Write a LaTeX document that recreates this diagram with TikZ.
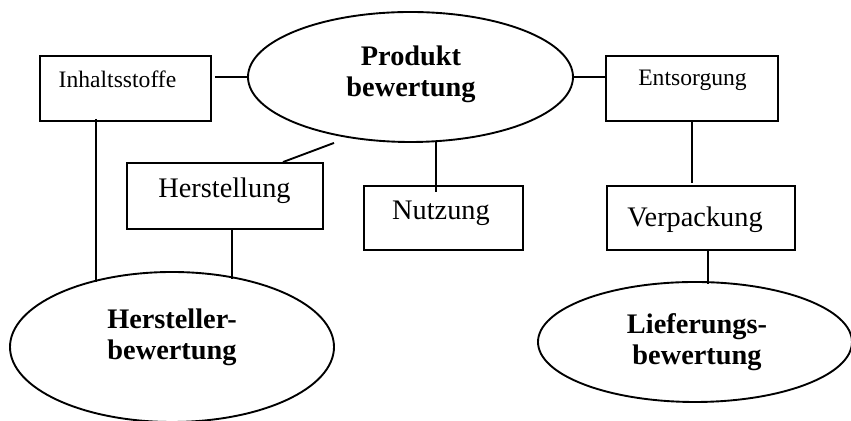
\documentclass[tikz,border=0pt]{standalone}
\usepackage{fontspec}
\setmainfont{Liberation Serif}
\usetikzlibrary{shapes.geometric,calc}
\newcommand\pxu{0.4237pt}
\tikzset{
  box/.style={draw, line width=0.8pt, inner sep=0pt},
  oval/.style={draw, ellipse, line width=0.8pt, inner sep=0pt},
  link/.style={line width=0.8pt},
  small/.style={font=\fontsize{10}{12}\selectfont, anchor=base, inner sep=0pt},
  plain/.style={font=\fontsize{12}{14}\selectfont, anchor=base, inner sep=0pt},
  heading/.style={font=\fontsize{12}{13.2}\selectfont\bfseries, align=center, inner sep=0pt},
}
\begin{document}
\begin{tikzpicture}[x=0.4237pt, y=-0.4237pt]
  \useasboundingbox (0,0) rectangle (851,421);

  % central ellipse
  \node[oval, minimum width={325*\pxu}, minimum height={130*\pxu}] (prod) at (410.5,77) {};
  \node[heading] (prodtext) at (411,74) {Produkt\\bewertung};

  % aspect boxes
  \node[box, minimum width={171*\pxu}, minimum height={65*\pxu}] (inh) at (125.5,88.5) {};
  \node[small] (inhtext) at (117.5,88) {Inhaltsstoffe};

  \node[box, minimum width={172*\pxu}, minimum height={65*\pxu}] (ents) at (692,88.5) {};
  \node[small] (entstext) at (692.5,86) {Entsorgung};

  \node[box, minimum width={196*\pxu}, minimum height={66*\pxu}] (herst) at (225,196) {};
  \node[plain] (hersttext) at (224.5,198) {Herstellung};

  \node[box, minimum width={159*\pxu}, minimum height={64*\pxu}] (nutz) at (443.5,218) {};
  \node[plain] (nutztext) at (441,220) {Nutzung};

  \node[box, minimum width={188*\pxu}, minimum height={64*\pxu}] (verp) at (701,218) {};
  \node[plain] (verptext) at (695,227) {Verpackung};

  % lower ellipses
  \node[oval, minimum width={324*\pxu}, minimum height={150*\pxu}] (hbew) at (172,347) {};
  \node[heading] (hbewtext) at (172,337) {Hersteller-\\bewertung};

  \node[oval, minimum width={314*\pxu}, minimum height={120*\pxu}] (lbew) at (695,342) {};
  \node[heading] (lbewtext) at (697,342) {Lieferungs-\\bewertung};

  % connectors
  \draw[link] ($(inh.east)+(3,-11.5)$) -- (prod.west);
  \draw[link] (prod.east) -- ($(ents.east)+(-172,-11.5)$);
  \draw[link] ($(prod.south)+(-76.5,0)$) -- ($(herst.north)+(58,0)$);
  \draw[link] ($(prod.south)+(25.5,-1)$) -- ($(nutz.north)+(-7.5,7)$);
  \draw[link] (ents.south) -- ($(verp.north)+(-9,-2)$);
  \draw[link] ($(verp.south)+(7,0)$) -- ($(lbew.north)+(13,3)$);
  \draw[link] ($(inh.south)+(-29.5,-3)$) -- ($(hbew.north)+(-76,11)$);
  \draw[link] ($(herst.south)+(7,0)$) -- ($(hbew.north)+(60,8)$);
\end{tikzpicture}
\end{document}
